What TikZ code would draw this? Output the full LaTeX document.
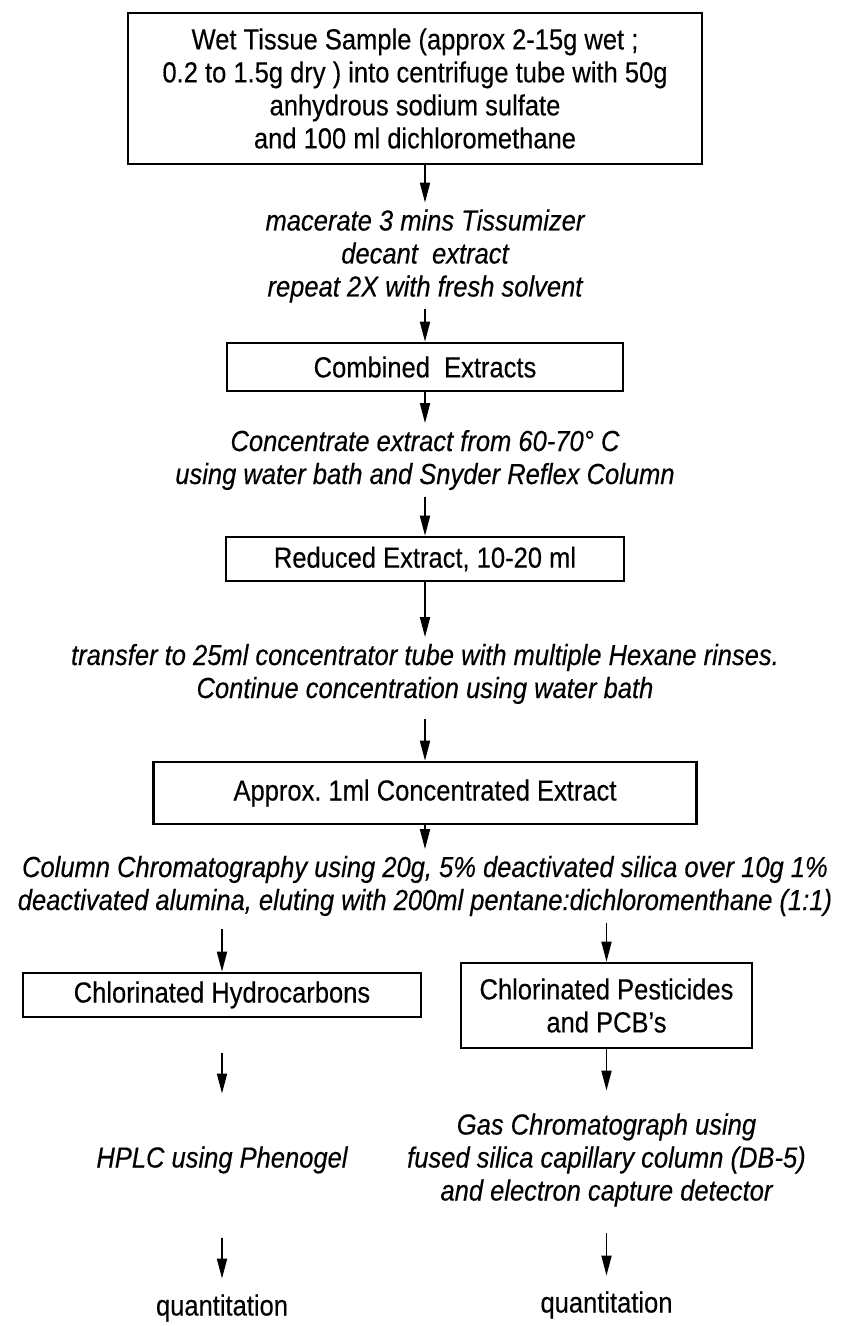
\documentclass[tikz,border=0pt]{standalone}
\usepackage{fontspec}
\setmainfont[FakeStretch=0.88,FakeBold=0.3]{Liberation Sans}
\usetikzlibrary{arrows.meta,positioning}

\begin{document}
\begin{tikzpicture}[>={Triangle[length=10pt,width=5pt]},on grid,
    every node/.style={align=center,font=\fontsize{14.5}{16.5}\selectfont\frenchspacing,inner sep=3pt},
    box/.style={draw,line width=1.3pt},
    note/.style={font=\fontsize{14.5}{16.5}\selectfont\frenchspacing\itshape},
    every path/.style={line width=0.9pt}]
      \useasboundingbox (0,0) rectangle (427pt,-663pt);
      \node[box,minimum width=287pt,minimum height=75.5pt] (top) at (207.5pt,-44.25pt) {Wet Tissue Sample (approx 2-15g wet ;\\0.2 to 1.5g dry ) into centrifuge tube with 50g\\anhydrous sodium sulfate\\and 100 ml dichloromethane};
      \node[note,below=83.75pt of top,xshift=5pt] (mac) {macerate 3 mins Tissumizer\\decant~ extract\\repeat 2X with fresh solvent};
      \node[box,below=55.5pt of mac,minimum width=198pt,minimum height=24pt] (comb) {Combined~ Extracts};
      \node[note,below=46.5pt of comb] (conc) {Concentrate extract from 60-70° C\\using water bath and Snyder Reflex Column};
      \node[box,below=49.5pt of conc,minimum width=199pt,minimum height=22pt] (red) {Reduced Extract, 10-20 ml};
      \node[note,below=57.5pt of red] (trans) {transfer to 25ml concentrator tube with multiple Hexane rinses.\\Continue concentration using water bath};
      \node[box,below=59.5pt of trans,minimum width=271.5pt,minimum height=31pt] (approx) {Approx. 1ml Concentrated Extract};
      \node[note,below=46.5pt of approx] (col) {Column Chromatography using 20g, 5\% deactivated silica over 10g 1\%\\deactivated alumina, eluting with 200ml pentane:dichloromenthane (1:1)};
      \node[box,below left=54.5pt and 101.5pt of col,minimum width=199pt,minimum height=22pt] (hydro) {Chlorinated Hydrocarbons};
      \node[box,below right=59.75pt and 90.75pt of col,minimum width=145.5pt,minimum height=42.5pt] (pest) {Chlorinated Pesticides\\and PCB's};
      \node[note,below=82.5pt of hydro] (hplc) {HPLC using Phenogel};
      \node[note,below=77.25pt of pest] (gas) {Gas Chromatograph using\\fused silica capillary column (DB-5)\\and electron capture detector};
      \node[below=74pt of hplc] (quantl) {quantitation};
      \node[below=72.5pt of gas] (quantr) {quantitation};
      \draw[->] (top.south -| mac) -- (mac);
      \draw[->] (mac) -- (comb);
      \draw[->] (comb) -- (conc);
      \draw[->] (conc) -- (red);
      \draw[->] (red) -- (trans);
      \draw[->,shorten <=4pt] (trans) -- (approx);
      \draw[->] (approx) -- (col);
      \draw[->,shorten <=3pt] (col.south -| hydro) -- (hydro);
      \draw[->] (col.south -| pest) -- (pest);
      \draw[->,shorten <=17.5pt,shorten >=23pt] (hydro) -- (hplc);
      \draw[->,shorten >=8pt] (pest) -- (gas);
      \draw[->,shorten <=29pt,shorten >=4.5pt] (hplc) -- (quantl);
      \draw[->,shorten <=10pt,shorten >=4.5pt] (gas) -- (quantr);
    \end{tikzpicture}
\end{document}
